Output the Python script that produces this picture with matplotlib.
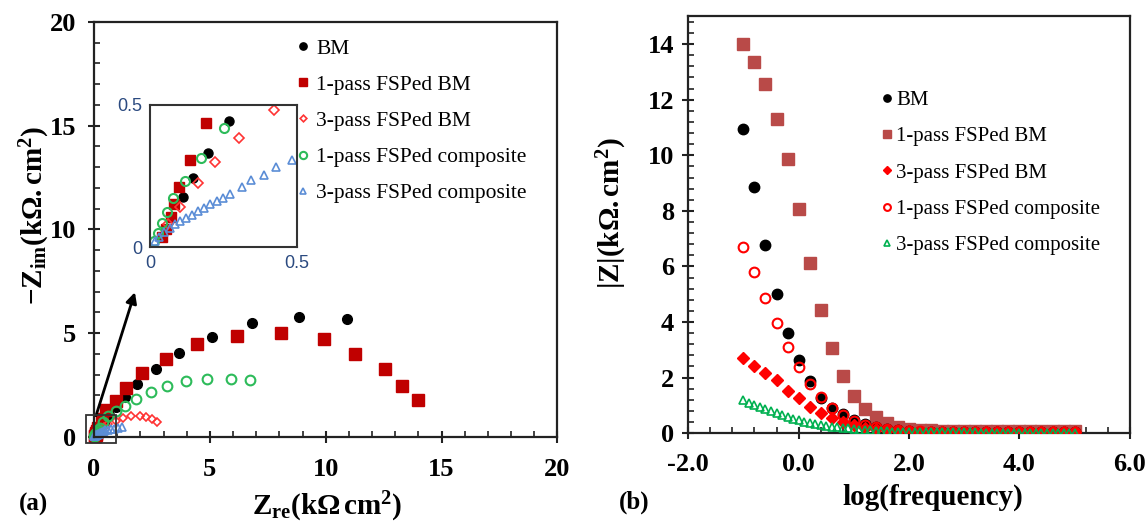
import numpy as np
import matplotlib
matplotlib.use('AGG')
import matplotlib.pyplot as plt
from matplotlib.patches import Rectangle
from matplotlib.ticker import MultipleLocator, FormatStrFormatter

plt.rcParams['font.family'] = ['Liberation Serif', 'DejaVu Serif']
plt.rcParams['mathtext.fontset'] = 'custom'
plt.rcParams['mathtext.rm'] = 'Liberation Serif'
plt.rcParams['mathtext.it'] = 'Liberation Serif:italic'
plt.rcParams['mathtext.bf'] = 'Liberation Serif:bold'
plt.rcParams['axes.unicode_minus'] = False

# ---- (a) Nyquist data, kOhm.cm2 ----
labels = ['BM', '1-pass FSPed BM', '3-pass FSPed BM',
          '1-pass FSPed composite', '3-pass FSPed composite']

bm_re = [0.112, 0.146, 0.196, 0.267, 0.42, 0.65, 0.95, 1.34, 1.87, 2.67,
         3.65, 5.07, 6.81, 8.85, 10.93]
bm_im = [0.176, 0.242, 0.33, 0.444, 0.70, 1.05, 1.45, 1.94, 2.54, 3.26,
         4.03, 4.83, 5.48, 5.80, 5.67]

p1_re = [0.04, 0.054, 0.069, 0.081, 0.097, 0.135, 0.19, 0.33, 0.52, 0.93,
         1.38, 2.08, 3.09, 4.45, 6.15, 8.07, 9.91, 11.28, 12.57, 13.3, 13.98]
p1_im = [0.035, 0.065, 0.105, 0.15, 0.211, 0.306, 0.435, 0.85, 1.3, 1.75,
         2.36, 3.1, 3.77, 4.5, 4.88, 5.03, 4.71, 3.98, 3.26, 2.43, 1.78]

p3_re = [0.06, 0.1, 0.161, 0.22, 0.303, 0.42, 0.62, 0.93, 1.26, 1.58,
         1.98, 2.24, 2.49, 2.73]
p3_im = [0.08, 0.14, 0.227, 0.30, 0.385, 0.482, 0.6, 0.78, 0.90, 1.01,
         1.01, 0.95, 0.85, 0.71]

c1_re = [0.014, 0.025, 0.039, 0.056, 0.079, 0.119, 0.173, 0.25, 0.4, 0.62,
         0.95, 1.34, 1.81, 2.44, 3.13, 3.95, 4.89, 5.89, 6.75]
c1_im = [0.021, 0.049, 0.084, 0.124, 0.173, 0.233, 0.313, 0.419, 0.7, 1.01,
         1.25, 1.49, 1.83, 2.15, 2.47, 2.67, 2.80, 2.80, 2.75]

c3_re = [0.016, 0.031, 0.048, 0.066, 0.083, 0.10, 0.121, 0.141, 0.161, 0.183,
         0.205, 0.227, 0.248, 0.273, 0.313, 0.344, 0.389, 0.429, 0.483,
         0.6, 0.72, 0.86, 1.02, 1.2]
c3_im = [0.021, 0.037, 0.052, 0.067, 0.081, 0.093, 0.102, 0.114, 0.126, 0.138,
         0.152, 0.162, 0.173, 0.188, 0.211, 0.235, 0.253, 0.283, 0.308,
         0.34, 0.37, 0.40, 0.43, 0.46]

# ---- (b) Bode |Z| data ----
logf = [-1.0, -0.8, -0.6, -0.4, -0.2, 0.0, 0.2, 0.4, 0.6, 0.8, 1.0, 1.2, 1.4,
        1.6, 1.8, 2.0, 2.2, 2.4, 2.6, 2.8, 3.0, 3.2, 3.4, 3.6, 3.8, 4.0, 4.2,
        4.4, 4.6, 4.8, 5.0]
z_bm = [10.96, 8.86, 6.77, 5.0, 3.62, 2.63, 1.87, 1.28, 0.92, 0.68, 0.49,
        0.32, 0.23, 0.16, 0.11, 0.08, 0.06, 0.05, 0.04, 0.04, 0.03, 0.03,
        0.03, 0.03, 0.03, 0.03, 0.03, 0.03, 0.03, 0.03, 0.03]
z_p1 = [13.99, 13.34, 12.56, 11.29, 9.87, 8.05, 6.14, 4.43, 3.05, 2.05, 1.33,
        0.88, 0.59, 0.37, 0.23, 0.15, 0.12, 0.10, 0.09, 0.08, 0.07, 0.07,
        0.07, 0.07, 0.07, 0.07, 0.07, 0.07, 0.07, 0.07, 0.07]
z_p3 = [2.72, 2.42, 2.18, 1.91, 1.52, 1.28, 0.95, 0.71, 0.55, 0.41, 0.29,
        0.20, 0.15, 0.11, 0.09, 0.07, 0.06, 0.06, 0.05, 0.05, 0.05, 0.05,
        0.05, 0.05, 0.05, 0.05, 0.05, 0.05, 0.05, 0.05, 0.05]
z_c1 = [6.71, 5.81, 4.87, 3.97, 3.11, 2.39, 1.76, 1.30, 0.92, 0.64, 0.45,
        0.31, 0.22, 0.15, 0.11, 0.08, 0.07, 0.06, 0.05, 0.05, 0.05, 0.05,
        0.05, 0.05, 0.05, 0.05, 0.05, 0.05, 0.05, 0.05, 0.05]

logf_c3 = [-1.0, -0.9, -0.8, -0.7, -0.6, -0.5, -0.4, -0.3, -0.2, -0.1, 0.0,
           0.1, 0.2, 0.3, 0.4, 0.5, 0.6, 0.7, 0.8, 0.9, 1.0, 1.1, 1.2, 1.3,
           1.4, 1.5, 1.6, 1.7, 1.8, 1.9, 2.0, 2.1, 2.2, 2.3, 2.4, 2.5, 2.6,
           2.7, 2.8, 2.9, 3.0, 3.1, 3.2, 3.3, 3.4, 3.5, 3.6, 3.7, 3.8, 3.9,
           4.0, 4.1, 4.2, 4.3, 4.4, 4.5, 4.6, 4.7, 4.8, 4.9, 5.0]
z_c3 = [1.20, 1.10, 1.03, 0.95, 0.88, 0.80, 0.73, 0.66, 0.59, 0.52, 0.46,
        0.41, 0.37, 0.33, 0.30, 0.27, 0.24, 0.21, 0.19, 0.17, 0.15, 0.13,
        0.12, 0.10, 0.09, 0.08, 0.07, 0.06, 0.06, 0.05, 0.05, 0.04, 0.04,
        0.04, 0.04, 0.03, 0.03, 0.03, 0.03, 0.03, 0.03, 0.03, 0.03, 0.02,
        0.02, 0.02, 0.02, 0.02, 0.02, 0.02, 0.02, 0.02, 0.02, 0.02, 0.02,
        0.02, 0.02, 0.02, 0.02, 0.02, 0.02]

fig = plt.figure(figsize=(11.47, 5.27), dpi=100)
ax1 = fig.add_axes([0.082, 0.171, 0.404, 0.7875])
ax2 = fig.add_axes([0.600, 0.178, 0.385, 0.791])


def style_axis(ax, xpad, ypad):
    for s in ax.spines.values():
        s.set_linewidth(1.6)
        s.set_color('#222222')
    ax.tick_params(which='major', direction='inout', length=8, width=1.5,
                   colors='#222222', labelsize=19)
    ax.tick_params(axis='x', which='major', pad=xpad)
    ax.tick_params(axis='y', which='major', pad=ypad)
    ax.tick_params(which='minor', direction='in', length=4, width=1.2,
                   colors='#222222')
    for lab in ax.get_xticklabels() + ax.get_yticklabels():
        lab.set_fontweight('bold')
        lab.set_color('black')


# ---- panel (a) ----
ax1.plot(bm_re, bm_im, 'o', ms=7, color='black', label=labels[0], clip_on=False)
ax1.plot(p1_re, p1_im, 's', ms=8, color='#c00000', label=labels[1], clip_on=False)
ax1.plot(p3_re, p3_im, 'D', ms=4.5, mfc='none', mec='#ff3333', mew=1.2,
         label=labels[2], clip_on=False)
ax1.plot(c1_re, c1_im, 'o', ms=7, mfc='none', mec='#2dbb5a', mew=1.5,
         label=labels[3], clip_on=False)
ax1.plot(c3_re, c3_im, '^', ms=5.5, mfc='none', mec='#5b8dd6', mew=1.2,
         label=labels[4], clip_on=False)
ax1.set_xlim(0, 20)
ax1.set_ylim(0, 20)
ax1.xaxis.set_major_locator(MultipleLocator(5))
ax1.xaxis.set_minor_locator(MultipleLocator(1))
ax1.yaxis.set_major_locator(MultipleLocator(5))
ax1.yaxis.set_minor_locator(MultipleLocator(1))
style_axis(ax1, 11, 9)
ax1.set_xlabel(r'$\mathbf{Z_{re}(k\Omega\,cm^{2})}$', fontsize=21, va='center')
ax1.xaxis.set_label_coords(0.503, -0.169)
ax1.set_ylabel(r'$\mathbf{-Z_{im}(k\Omega.cm^{2})}$', fontsize=21, va='center')
ax1.yaxis.set_label_coords(-0.128, 0.533)

ax1.add_patch(Rectangle((-0.35, -0.3), 1.3, 1.36, fill=False, ec='#333333',
                        lw=1.3, clip_on=False, zorder=5))
ax1.annotate('', xy=(1.8, 7.1), xytext=(0.05, 0.9),
             arrowprops=dict(arrowstyle='-|>', color='black', lw=2,
                             mutation_scale=16))

ax1.legend(loc='upper left', bbox_to_anchor=(0.44, 0.96), frameon=False,
           fontsize=15.5, handlelength=0.5, handletextpad=0.35, labelspacing=0.75,
           borderpad=0, borderaxespad=0, markerscale=0.75)

# inset
axi = fig.add_axes([0.131, 0.531, 0.128, 0.270])
axi.plot(bm_re, bm_im, 'o', ms=6.5, color='black')
axi.plot(p1_re, p1_im, 's', ms=7, color='#c00000')
axi.plot(p3_re, p3_im, 'D', ms=5, mfc='none', mec='#ff3333', mew=1.2)
axi.plot(c1_re, c1_im, 'o', ms=6.5, mfc='none', mec='#2dbb5a', mew=1.5)
axi.plot(c3_re, c3_im, '^', ms=6, mfc='none', mec='#5b8dd6', mew=1.2)
axi.set_xlim(0, 0.5)
axi.set_ylim(0, 0.5)
axi.set_xticks([0, 0.5])
axi.set_yticks([0, 0.5])
axi.set_xticklabels(['0', '0.5'])
axi.set_yticklabels(['0', '0.5'])
axi.tick_params(length=0, labelsize=13, labelcolor='#2b4a80', pad=6)
for lab in axi.get_xticklabels() + axi.get_yticklabels():
    lab.set_family('Liberation Sans')
for s in axi.spines.values():
    s.set_linewidth(1.5)
    s.set_color('#333333')

# ---- panel (b) ----
ax2.plot(logf, z_bm, 'o', ms=7.5, color='black', label=labels[0], zorder=3)
ax2.plot(logf, z_p1, 's', ms=8, color='#b94a48', label=labels[1], zorder=2)
ax2.plot(logf, z_p3, 'D', ms=6, color='#ff0000', label=labels[2], zorder=4)
ax2.plot(logf, z_c1, 'o', ms=7, mfc='none', mec='#ff0000', mew=1.5,
         label=labels[3], zorder=4)
ax2.plot(logf_c3, z_c3, '^', ms=6, mfc='none', mec='#00b050', mew=1.2,
         label=labels[4], zorder=5)
ax2.set_xlim(-2, 6)
ax2.set_ylim(0, 15)
ax2.xaxis.set_major_locator(MultipleLocator(2))
ax2.xaxis.set_minor_locator(MultipleLocator(0.4))
ax2.xaxis.set_major_formatter(FormatStrFormatter('%.1f'))
ax2.yaxis.set_major_locator(MultipleLocator(2))
ax2.yaxis.set_minor_locator(MultipleLocator(0.4))
style_axis(ax2, 10, 6)
ax2.set_xlabel('log(frequency)', fontsize=21, fontweight='bold', va='center')
ax2.xaxis.set_label_coords(0.554, -0.153)
ax2.set_ylabel(r'$\mathbf{|Z|(k\Omega.cm^{2})}$', fontsize=21, va='center')
ax2.yaxis.set_label_coords(-0.172, 0.528)

ax2.legend(loc='upper left', bbox_to_anchor=(0.44, 0.822), frameon=False,
           fontsize=15, handlelength=0.45, handletextpad=0.2, labelspacing=0.8,
           borderpad=0, borderaxespad=0, markerscale=0.7)

fig.text(0.029, 0.042, '(a)', fontsize=18, fontweight='bold', ha='center',
         va='center')
fig.text(0.553, 0.046, '(b)', fontsize=18, fontweight='bold', ha='center',
         va='center')

fig.savefig('out.png', dpi=100)
